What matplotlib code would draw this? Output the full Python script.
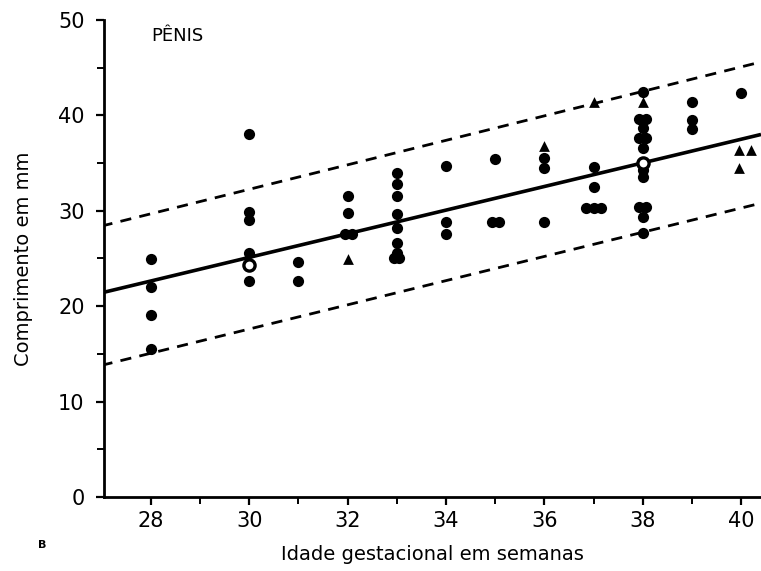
import matplotlib
matplotlib.use("Agg")
import matplotlib.pyplot as plt
import numpy as np

# Data (gestational week, length mm)
circ_x = [28, 28, 28, 28,
          30, 30, 30, 30, 30,
          31, 31,
          32, 32, 31.95, 32.08,
          33, 33, 33, 33, 33, 33, 33, 32.95, 33.05,
          34, 34, 34,
          35, 34.93, 35.07,
          36, 36, 36,
          37, 37, 36.85, 37.0, 37.15,
          38, 37.93, 38.07, 38, 37.93, 38.07, 38, 38, 38, 37.93, 38.07, 38, 38,
          39, 39, 39,
          40]
circ_y = [24.9, 22.0, 19.1, 15.5,
          38.0, 29.9, 29.0, 25.6, 22.6,
          24.6, 22.6,
          31.6, 29.8, 27.6, 27.6,
          34.0, 32.8, 31.6, 29.7, 28.2, 26.6, 25.6, 25.1, 25.1,
          34.7, 28.8, 27.6,
          35.4, 28.8, 28.8,
          35.5, 34.5, 28.8,
          34.6, 32.5, 30.3, 30.3, 30.3,
          42.4, 39.6, 39.6, 38.7, 37.6, 37.6, 36.6, 34.3, 33.5, 30.4, 30.4, 29.4, 27.7,
          41.4, 39.5, 38.6,
          42.3]
open_x = [30, 38]
open_y = [24.3, 35.0]
tri_x = [32, 36, 37, 38, 39.95, 40.2, 39.95]
tri_y = [24.9, 36.8, 41.4, 41.4, 36.4, 36.4, 34.5]

# Regression and limit lines
line_x = [27.0, 40.4]
mean_y = [21.4, 38.0]
upper_y = [28.4, 45.6]
lower_y = [13.8, 30.8]

xticks = [28, 30, 32, 34, 36, 38, 40]
yticks = [0, 10, 20, 30, 40, 50]

fig = plt.figure(figsize=(7.61, 5.71), dpi=100)
ax = fig.add_axes([0.1367, 0.1296, 0.8633, 0.8354])

ax.plot(line_x, mean_y, color="black", lw=2.6, solid_capstyle="butt")
ax.plot(line_x, upper_y, color="black", lw=2.0, dashes=(4, 3))
ax.plot(line_x, lower_y, color="black", lw=2.0, dashes=(4, 3))

ax.scatter(circ_x, circ_y, s=65, color="black", marker="o", zorder=3, linewidths=0)
ax.scatter(open_x, open_y, s=65, facecolor="white", edgecolor="black", marker="o",
           zorder=4, linewidths=2.4)
ax.scatter(tri_x, tri_y, s=60, color="black", marker="^", zorder=3, linewidths=0)

ax.set_xlim(27.05, 40.4)
ax.set_ylim(0, 50)
ax.set_xticks(xticks)
ax.set_xticks(np.arange(28, 41, 1), minor=True)
ax.set_yticks(yticks)
ax.set_yticks([5, 15, 25, 35, 45], minor=True)

for s in ["top", "right"]:
    ax.spines[s].set_visible(False)
ax.spines["left"].set_linewidth(2.0)
ax.spines["bottom"].set_linewidth(2.0)

ax.tick_params(axis="both", which="major", labelsize=15, width=1.6, length=6,
               direction="out", pad=4)
ax.tick_params(axis="y", which="major", pad=8)
ax.tick_params(axis="both", which="minor", width=1.4, length=5, direction="out")

ax.set_xlabel("Idade gestacional em semanas", fontsize=14, labelpad=10)
ax.set_ylabel("Comprimento em mm", fontsize=14, labelpad=18)

ax.text(28.0, 48.3, "PÊNIS", fontsize=13, ha="left", va="center")
fig.text(0.055, 0.045, "B", fontsize=8, fontweight="bold", ha="center", va="center")

fig.savefig("out.png", dpi=100)
